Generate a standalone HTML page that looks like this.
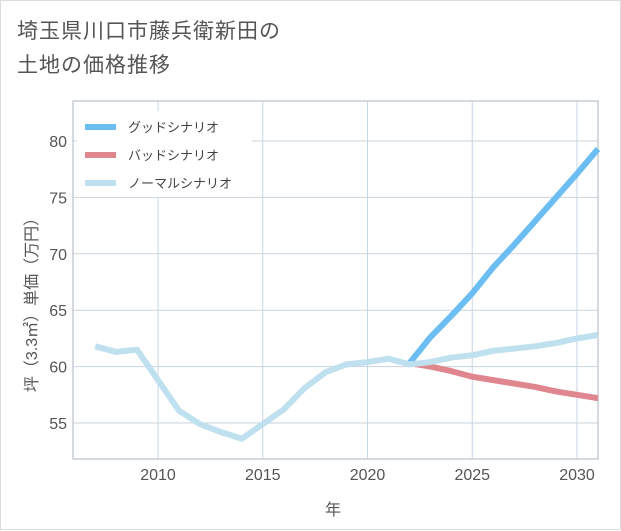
<!DOCTYPE html>
<html><head><meta charset="utf-8"><style>
body{margin:0;background:#fff;font-family:"Liberation Sans","Noto Sans CJK JP",sans-serif;}
#wrap{position:relative;width:619px;height:528px;border:1px solid #ddd;}
.title{position:absolute;left:16px;top:14px;font-size:21px;line-height:34px;color:#555;letter-spacing:1px;}
</style></head><body>
<div id="wrap">
<div class="title">埼玉県川口市藤兵衛新田の<br>土地の価格推移</div>
<svg id="chart" width="621" height="530" style="position:absolute;left:0;top:0"></svg>
</div>
<script>
const years=[2007,2008,2009,2010,2011,2012,2013,2014,2015,2016,2017,2018,2019,2020,2021,2022,2023,2024,2025,2026,2027,2028,2029,2030,2031];
const normalVals=[61.8,61.3,61.5,58.8,56.1,54.9,54.2,53.6,54.9,56.2,58.1,59.5,60.2,60.4,60.7,60.2,60.4,60.8,61.0,61.4,61.6,61.8,62.1,62.5,62.8];
const futureYears=[2022,2023,2024,2025,2026,2027,2028,2029,2030,2031];
const goodVals=[60.3,62.6,64.5,66.5,68.8,70.8,72.9,75.0,77.1,79.3];
const badVals=[60.3,60.0,59.6,59.1,58.8,58.5,58.2,57.8,57.5,57.2];
const xTicks=[2010,2015,2020,2025,2030];
const yTicks=[55,60,65,70,75,80];
const L=72,R=597,T=100,B=458;
const x=v=>157+(v-2010)*20.95;
const y=v=>140+(80-v)*11.28;
const svg=document.getElementById('chart');
const NS='http://www.w3.org/2000/svg';
function mk(t,a){const e=document.createElementNS(NS,t);for(const k in a)e.setAttribute(k,a[k]);svg.appendChild(e);return e;}
let e;
e=mk('rect',{x:L,y:T,width:R-L,height:B-T,fill:'#fff',stroke:'#aab4c0'});


for(let yr=2007;yr<=2031;yr++){if(yr%5)continue;}
xTicks.forEach(t=>{
 e=mk('line',{x1:x(t),x2:x(t),y1:T,y2:B,stroke:'#c9d6e3'});
 
 
 e=mk('text',{x:x(t),y:479,'text-anchor':'middle','font-size':16,fill:'#555'});e.textContent=t;
 
 
});
yTicks.forEach(t=>{
 e=mk('line',{x1:L,x2:R,y1:y(t),y2:y(t),stroke:'#c9d3de'});
 
 
 e=mk('text',{x:66,y:y(t)+6,'text-anchor':'end','font-size':16,fill:'#555'});e.textContent=t;
 
 
});
function line(xs,vs,c,n){
 e=mk('polyline',{points:xs.map((d,i)=>x(d)+','+y(vs[i])).join(' '),fill:'none',stroke:c,'stroke-width':6,'stroke-linejoin':'round'});
 
 
}
line(futureYears,badVals,'#e0868f','bad-scenario-line');
line(futureYears,goodVals,'#6bbdf2','good-scenario-line');
line(years,normalVals,'#bfe0ee','normal-scenario-line');
const leg=[['グッドシナリオ','#6bbdf2'],['バッドシナリオ','#e0868f'],['ノーマルシナリオ','#bfe0ee']];
e=mk('rect',{x:76,y:110,width:175,height:86,fill:'#fff'});


leg.forEach((l,i)=>{
 const yy=126+i*28;
 e=mk('line',{x1:84,x2:115,y1:yy,y2:yy,stroke:l[1],'stroke-width':6});
 
 
 e=mk('text',{x:127,y:yy+5,'font-size':13,fill:'#444'});e.textContent=l[0];
 
 
});
e=mk('text',{x:332,y:514,'text-anchor':'middle','font-size':16,fill:'#555'});e.textContent='年';


e=mk('text',{x:0,y:0,'text-anchor':'middle','font-size':16,fill:'#555',transform:'translate(36,300) rotate(-90)'});e.textContent='坪（3.3㎡）単価（万円）';


</script>
</body></html>
